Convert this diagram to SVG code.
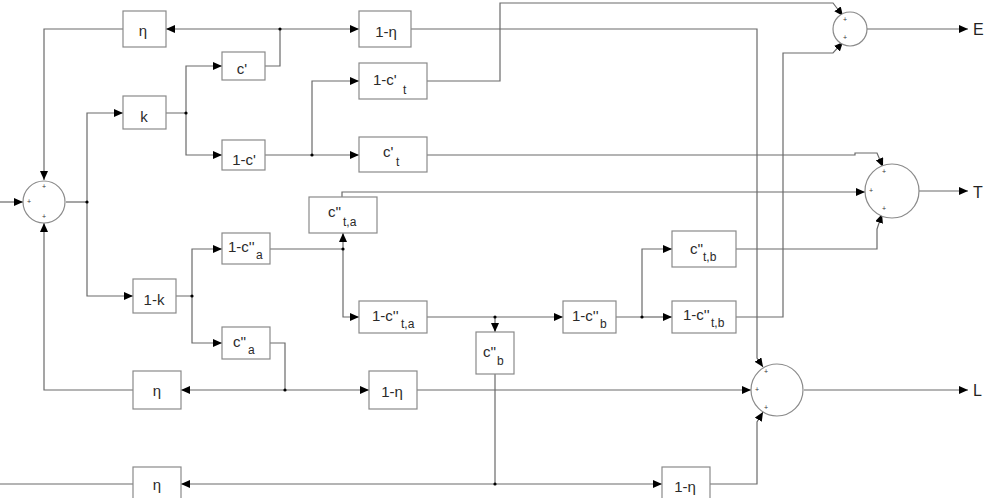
<svg xmlns="http://www.w3.org/2000/svg" width="991" height="498" viewBox="0 0 991 498">
<defs>
<marker id="ar" viewBox="0 0 9 8" refX="9" refY="4" markerWidth="9" markerHeight="8" markerUnits="userSpaceOnUse" orient="auto">
<path d="M0,0 L9,4 L0,8 z" fill="#000"/>
</marker>
</defs>
<style>
.b{fill:#fff;stroke:#8a8a8a;stroke-width:1.2}
.s{fill:#fff;stroke:#8a8a8a;stroke-width:1.2}
.w{fill:none;stroke:#6a6a6a;stroke-width:1.2}
.a{marker-end:url(#ar)}
.t{font-family:"Liberation Sans",Arial,sans-serif;font-size:15px;fill:#2a2a2a}
.c{text-anchor:middle}
.sub{font-size:12px}
.p{font-family:"Liberation Sans",Arial,sans-serif;font-size:7px;fill:#333;text-anchor:middle}
.o{font-family:"Liberation Sans",Arial,sans-serif;font-size:16px;fill:#222}
.d{fill:#000}
</style>
<rect width="991" height="498" fill="#fff"/>
<g id="connectors">
<path class="w a" d="M0,202 H23"/>
<path class="w" d="M66,202 H87"/>
<path class="w a" d="M87,202 V113 H123"/>
<path class="w a" d="M87,202 V296 H133"/>
<path class="w a" d="M280,29 H166"/>
<path class="w a" d="M123,29 H44 V180"/>
<path class="w a" d="M166,113 H186 V66 H222"/>
<path class="w a" d="M186,113 V155 H222"/>
<path class="w a" d="M265,66 H280 V29 H359"/>
<path class="w a" d="M265,155 H359"/>
<path class="w a" d="M312,155 V81 H359"/>
<path class="w a" d="M176,296 H192 V249 H222"/>
<path class="w a" d="M192,296 V343 H222"/>
<path class="w a" d="M270,249 H343 V233"/>
<path class="w a" d="M343,249 V317 H359"/>
<path class="w a" d="M270,343 H285 V390 H181"/>
<path class="w a" d="M285,390 H369"/>
<path class="w a" d="M133,390 H44 V223"/>
<path class="w a" d="M427,317 H495 V332"/>
<path class="w a" d="M495,317 H563"/>
<path class="w a" d="M616,317 H642 V249 H672"/>
<path class="w a" d="M642,317 H672"/>
<path class="w a" d="M495,374 V484 H181"/>
<path class="w a" d="M495,484 H662"/>
<path class="w" d="M133,484 H0"/>
<path class="w a" d="M427,81 H500 V3 H833 L843,16"/>
<path class="w a" d="M736,317 H783 V53 H833 L843,42"/>
<path class="w a" d="M427,155 H855 V153 H877 L883,167"/>
<path class="w a" d="M342,197 V192 H865"/>
<path class="w a" d="M736,249 H877 V229 L882,214"/>
<path class="w a" d="M411,29 H757 V358 L763,367"/>
<path class="w a" d="M710,484 H757 V422 L763,412"/>
<path class="w a" d="M417,390 H751"/>
<path class="w a" d="M867,29 H968"/>
<path class="w a" d="M919,191 H968"/>
<path class="w a" d="M804,390 H968"/>
<circle class="d" cx="280" cy="29" r="1.6"/>
<circle class="d" cx="186" cy="113" r="1.6"/>
<circle class="d" cx="312" cy="155" r="1.6"/>
<circle class="d" cx="87" cy="202" r="1.6"/>
<circle class="d" cx="192" cy="296" r="1.6"/>
<circle class="d" cx="343" cy="249" r="1.6"/>
<circle class="d" cx="495" cy="317" r="1.6"/>
<circle class="d" cx="642" cy="317" r="1.6"/>
<circle class="d" cx="285" cy="390" r="1.6"/>
<circle class="d" cx="495" cy="484" r="1.6"/>
</g>
<g id="sum_in">
<circle class="s" cx="44" cy="202" r="21"/>
<text class="p" x="44" y="189">+</text>
<text class="p" x="29" y="204">+</text>
<text class="p" x="44" y="219">+</text>
</g>
<g id="sum_E">
<circle class="s" cx="850" cy="29" r="17"/>
<text class="p" x="845" y="22">+</text>
<text class="p" x="845" y="40">+</text>
</g>
<g id="sum_T">
<circle class="s" cx="892" cy="191" r="27"/>
<text class="p" x="884" y="174">+</text>
<text class="p" x="871" y="193">+</text>
<text class="p" x="884" y="211">+</text>
</g>
<g id="sum_L">
<circle class="s" cx="777" cy="390" r="26"/>
<text class="p" x="766" y="374">+</text>
<text class="p" x="757" y="392">+</text>
<text class="p" x="766" y="410">+</text>
</g>
<g id="eta1"><rect class="b" x="123" y="11" width="43" height="36"/><text class="t c" x="143" y="36">η</text></g>
<g id="one_eta1"><rect class="b" x="359" y="11" width="52" height="36"/><text class="t c" x="386" y="37">1-η</text></g>
<g id="cp"><rect class="b" x="222" y="52" width="43" height="28"/><text class="t c" x="242" y="74">c'</text></g>
<g id="k"><rect class="b" x="123" y="96" width="43" height="33"/><text class="t c" x="144" y="122">k</text></g>
<g id="one_cp"><rect class="b" x="222" y="140" width="43" height="30"/><text class="t c" x="244" y="165">1-c'</text></g>
<g id="one_cpt"><rect class="b" x="359" y="63" width="68" height="36"/><text class="t" x="373" y="85">1-c'</text><text class="t sub" x="403" y="94">t</text></g>
<g id="cpt"><rect class="b" x="359" y="137" width="68" height="35"/><text class="t" x="383" y="157">c'</text><text class="t sub" x="396" y="166">t</text></g>
<g id="cppta"><rect class="b" x="309" y="197" width="68" height="36"/><text class="t" x="328" y="217">c''</text><text class="t sub" x="343" y="226">t,a</text></g>
<g id="one_k"><rect class="b" x="133" y="279" width="43" height="34"/><text class="t c" x="154" y="305">1-k</text></g>
<g id="one_cppa"><rect class="b" x="222" y="233" width="48" height="31"/><text class="t" x="228" y="252">1-c''</text><text class="t sub" x="256" y="259">a</text></g>
<g id="cppa"><rect class="b" x="222" y="327" width="48" height="32"/><text class="t" x="233" y="347">c''</text><text class="t sub" x="248" y="354">a</text></g>
<g id="one_cppta"><rect class="b" x="359" y="301" width="68" height="32"/><text class="t" x="372" y="321">1-c''</text><text class="t sub" x="401" y="328">t,a</text></g>
<g id="one_cppb"><rect class="b" x="563" y="301" width="53" height="32"/><text class="t" x="572" y="321">1-c''</text><text class="t sub" x="600" y="328">b</text></g>
<g id="cpptb"><rect class="b" x="672" y="231" width="64" height="36"/><text class="t" x="690" y="254">c''</text><text class="t sub" x="703" y="261">t,b</text></g>
<g id="one_cpptb"><rect class="b" x="672" y="301" width="64" height="32"/><text class="t" x="683" y="320">1-c''</text><text class="t sub" x="711" y="327">t,b</text></g>
<g id="cppb"><rect class="b" x="476" y="332" width="38" height="42"/><text class="t" x="483" y="357">c''</text><text class="t sub" x="497" y="365">b</text></g>
<g id="eta2"><rect class="b" x="133" y="371" width="48" height="38"/><text class="t c" x="157" y="396">η</text></g>
<g id="one_eta2"><rect class="b" x="369" y="371" width="48" height="38"/><text class="t c" x="392" y="397">1-η</text></g>
<g id="eta3"><rect class="b" x="133" y="467" width="48" height="35"/><text class="t c" x="157" y="490">η</text></g>
<g id="one_eta3"><rect class="b" x="662" y="467" width="48" height="35"/><text class="t c" x="685" y="492">1-η</text></g>
<g id="outputs">
<text class="o" x="973" y="35">E</text>
<text class="o" x="973" y="198">T</text>
<text class="o" x="973" y="396">L</text>
</g>
</svg>
